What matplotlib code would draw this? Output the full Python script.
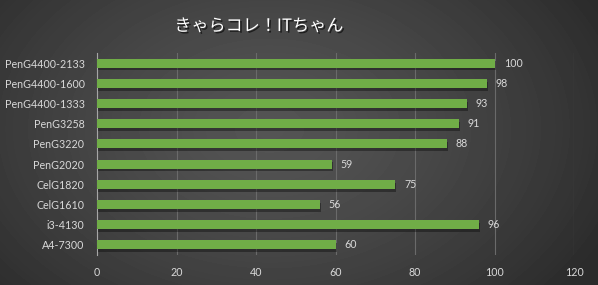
import numpy as np
import matplotlib
matplotlib.use("Agg")
import matplotlib.pyplot as plt
import matplotlib.patheffects as pe

categories = ["PenG4400-2133", "PenG4400-1600", "PenG4400-1333", "PenG3258", "PenG3220",
              "PenG2020", "CelG1820", "CelG1610", "i3-4130", "A4-7300"]
values = [100, 98, 93, 91, 88, 59, 75, 56, 96, 60]
xticks = [0, 20, 40, 60, 80, 100, 120]
title = "きゃらコレ！ITちゃん"

W, H = 598, 285
fig = plt.figure(figsize=(W / 100, H / 100), dpi=100)

# radial gradient background
bg = fig.add_axes([0, 0, 1, 1], zorder=0)
yy, xx = np.mgrid[0:H, 0:W]
cx, cy = W * 0.45, H * 0.45
r = np.sqrt(((xx - cx) / (W * 0.62)) ** 2 + ((yy - cy) / (H * 0.9)) ** 2)
r = np.clip(r, 0, 1)
inner, outer = 0.33, 0.17
img = inner + (outer - inner) * r ** 1.4
bg.imshow(img, cmap="gray", vmin=0, vmax=1, aspect="auto", interpolation="bilinear")
bg.axis("off")

ax = fig.add_axes([97 / W, 1 - 255 / H, (574 - 97) / W, (255 - 53) / H], zorder=1)
ax.patch.set_alpha(0)

FONT = "Lato"
FS = 7.7
TC = "#d9d9d9"

y = np.arange(len(categories))
bars = ax.barh(y, values, height=0.45, color="#70AD47", zorder=3)
for b in bars:
    b.set_path_effects([pe.SimplePatchShadow(offset=(0.8, -2.0), shadow_rgbFace="black", alpha=0.35),
                        pe.Normal()])

for yi, v in zip(y, values):
    ax.text(v + 2.3, yi, str(v), va="center", ha="left", color=TC, fontsize=FS,
            family=FONT, zorder=4)

ax.set_ylim(len(categories) - 0.5, -0.5)
ax.set_xlim(0, 120)
ax.set_yticks(y)
ax.set_yticklabels(categories, family=FONT, fontsize=FS, color=TC)
ax.set_xticks(xticks)
ax.set_xticklabels([str(t) for t in xticks], family=FONT, fontsize=FS, color=TC)
ax.tick_params(axis="both", length=0)
ax.tick_params(axis="y", pad=9)
ax.tick_params(axis="x", pad=9)
ax.grid(axis="x", color="#6a6a6a", linewidth=0.8, zorder=0)
for s in ["top", "right", "bottom"]:
    ax.spines[s].set_visible(False)
ax.spines["left"].set_color("#a6a6a6")
ax.spines["left"].set_linewidth(0.8)

fig.text(259 / W, 1 - 26 / H, title, ha="center", va="center", color="white", fontsize=12.3,
         family=["Noto Sans CJK JP", "DejaVu Sans"],
         path_effects=[pe.withSimplePatchShadow(offset=(1.2, -1.2), shadow_rgbFace="black", alpha=0.6)])

fig.savefig("out.png", dpi=100)
